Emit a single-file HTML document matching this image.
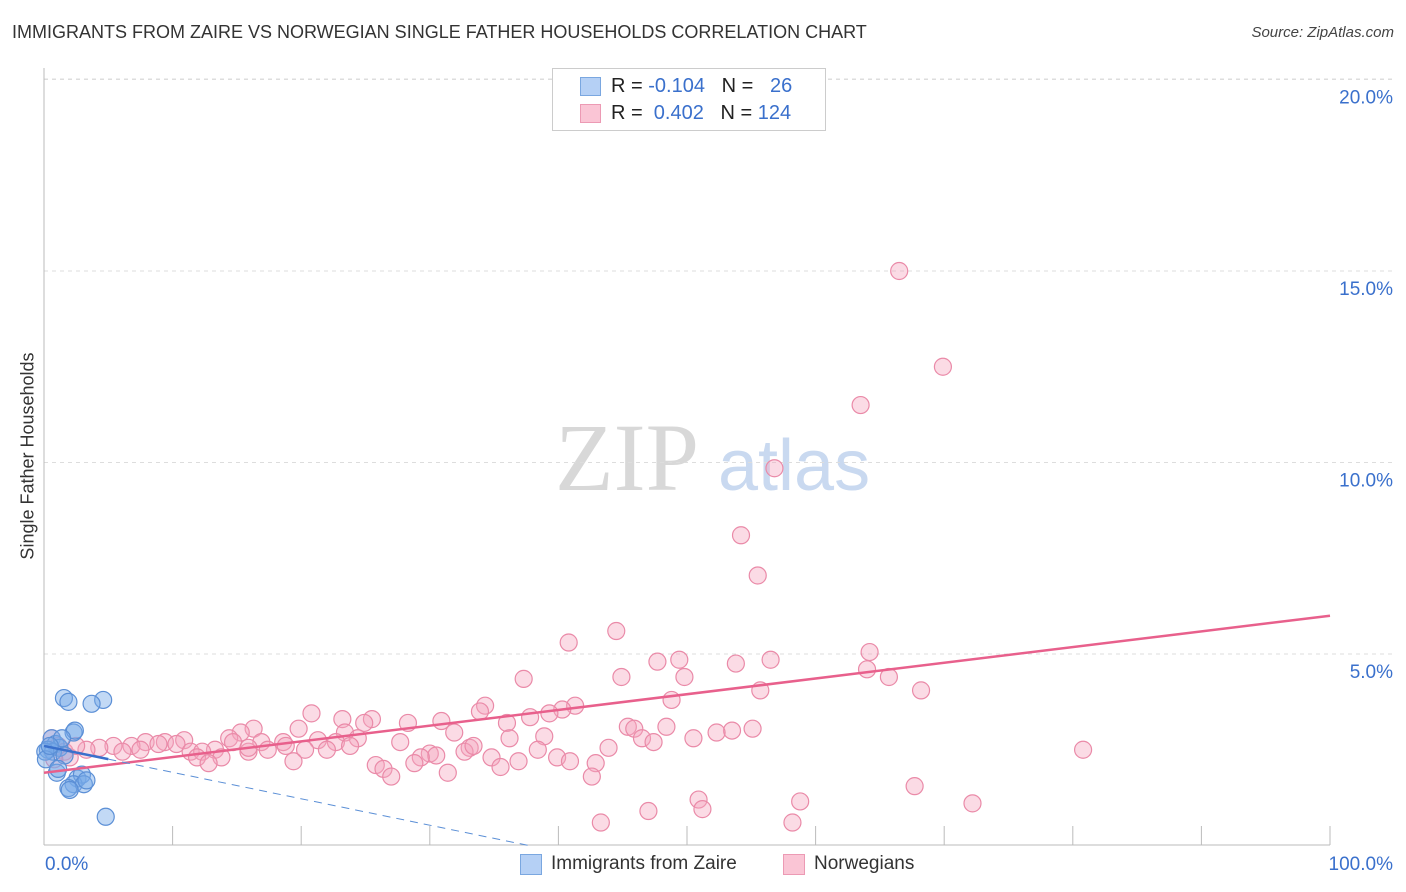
<!DOCTYPE html>
<html><head><meta charset="utf-8">
<style>
body{margin:0;background:#fff;font-family:"Liberation Sans",sans-serif;}
#wrap{position:relative;width:1406px;height:892px;overflow:hidden;}
.t{position:absolute;white-space:nowrap;}
</style></head>
<body>
<div id="wrap">
<div class="t" style="left:12px;top:22px;font-size:18px;color:#333;">IMMIGRANTS FROM ZAIRE VS NORWEGIAN SINGLE FATHER HOUSEHOLDS CORRELATION CHART</div>
<div class="t" style="right:12px;top:24px;font-size:15px;color:#444;font-style:italic;">Source: ZipAtlas.com</div>
<div class="t" style="left:28px;top:456px;font-size:18px;color:#333;transform:translate(-50%,-50%) rotate(-90deg);">Single Father Households</div>
<svg id="chart" width="1406" height="892" style="position:absolute;left:0;top:0">
<text x="555" y="490" font-family="Liberation Serif,serif" font-size="96" fill="#d8d8d8">ZIP</text>
<text x="718" y="490" font-family="Liberation Sans,sans-serif" font-size="72" fill="#c9d9f0">atlas</text>
</svg>
<div style="position:absolute;left:552px;top:68px;width:272px;height:61px;border:1px solid #ccc;background:#fff;">
 <div style="position:absolute;left:27px;top:8px;width:19px;height:17px;background:#b5d0f5;border:1px solid #7aa7e0;"></div>
 <div style="position:absolute;left:27px;top:35px;width:19px;height:17px;background:#fac5d5;border:1px solid #ec9ab4;"></div>
 <div class="t" style="left:58px;top:6px;font-size:20px;color:#222;">R = <span style="color:#3a70cc">-0.104</span>&nbsp;&nbsp;&nbsp;N = &nbsp;&nbsp;<span style="color:#3a70cc">26</span></div>
 <div class="t" style="left:58px;top:33px;font-size:20px;color:#222;">R = &nbsp;<span style="color:#3a70cc">0.402</span>&nbsp;&nbsp;&nbsp;N = <span style="color:#3a70cc">124</span></div>
</div>
<div>
 <div style="position:absolute;left:520px;top:854px;width:20px;height:19px;background:#b5d0f5;border:1px solid #7aa7e0;"></div>
 <div class="t" style="left:551px;top:853px;font-size:19px;color:#333;">Immigrants from Zaire</div>
 <div style="position:absolute;left:783px;top:854px;width:20px;height:19px;background:#fac5d5;border:1px solid #ec9ab4;"></div>
 <div class="t" style="left:814px;top:853px;font-size:19px;color:#333;">Norwegians</div>
</div>
</div>
<script>
const yTicks=[5,10,15,20];
const yTickLabels=["5.0%","10.0%","15.0%","20.0%"];
const xTickValues=[10,20,30,40,50,60,70,80,90,100];
const xEndLabels=["0.0%","100.0%"];
const blueX=[1.55,1.9,4.6,3.7,2.3,2.4,0.6,0.9,0.3,1.2,0.7,1.6,0.1,1.0,2.6,2.95,2.3,1.9,3.1,3.3,4.8,0.15,1.4,0.45,2.0,1.1];
const blueY=[3.85,3.75,3.8,3.7,2.95,3.0,2.8,2.65,2.5,2.55,2.45,2.35,2.45,1.9,1.75,1.85,1.6,1.5,1.6,1.7,0.75,2.25,2.8,2.6,1.45,2.0];
const pinkX=[66.5,69.9,63.5,56.8,54.2,55.5,44.5,40.8,64.2,49.4,56.5,47.7,53.8,64.0,44.9,49.8,65.7,37.3,55.7,68.2,48.8,34.3,41.3,20.8,33.9,40.3,39.3,37.8,23.2,25.5,24.9,28.3,30.9,36.0,19.8,16.3,45.4,45.9,48.4,55.1,53.5,52.3,15.3,23.4,31.9,38.9,24.4,14.4,50.5,46.5,36.2,47.4,18.6,21.3,16.9,14.7,10.9,9.4,7.9,10.3,8.9,6.8,5.4,4.3,22.7,27.7,23.8,18.8,17.4,20.3,22.0,33.1,32.7,11.4,13.3,15.9,3.3,6.1,7.5,12.3,15.9,43.9,38.4,80.8,33.4,30.0,30.5,29.3,34.8,39.9,40.9,11.9,13.8,19.4,28.8,36.9,12.8,42.9,25.8,35.5,26.4,31.4,27.0,42.6,50.9,58.8,51.2,47.0,67.7,72.2,43.3,58.2,0.6,1.1,1.6,2.0,0.8,2.5];
const pinkY=[15.0,12.5,11.5,9.85,8.1,7.05,5.6,5.3,5.05,4.85,4.85,4.8,4.75,4.6,4.4,4.4,4.4,4.35,4.05,4.05,3.8,3.65,3.65,3.45,3.5,3.55,3.45,3.35,3.3,3.3,3.2,3.2,3.25,3.2,3.05,3.05,3.1,3.05,3.1,3.05,3.0,2.95,2.95,2.95,2.95,2.85,2.8,2.8,2.8,2.8,2.8,2.7,2.7,2.75,2.7,2.7,2.75,2.7,2.7,2.65,2.65,2.6,2.6,2.55,2.7,2.7,2.6,2.6,2.5,2.5,2.5,2.55,2.45,2.45,2.5,2.45,2.5,2.45,2.5,2.45,2.55,2.55,2.5,2.5,2.6,2.4,2.35,2.3,2.3,2.3,2.2,2.3,2.3,2.2,2.15,2.2,2.15,2.15,2.1,2.05,2.0,1.9,1.8,1.8,1.2,1.15,0.95,0.9,1.55,1.1,0.6,0.6,2.8,2.6,2.45,2.3,2.25,2.6];
const blueTrend=[2.6,-0.069];
const pinkTrend=[1.9,0.041];

const X0=44,X1=1330,Y0=845.5,PXY=38.3;
const sx=v=>X0+(X1-X0)*v/100;
const sy=v=>Y0-v*PXY;
const svg=document.getElementById('chart');
const NS='http://www.w3.org/2000/svg';
function mk(tag,attrs){const e=document.createElementNS(NS,tag);for(const k in attrs)e.setAttribute(k,attrs[k]);svg.appendChild(e);return e;}

let g=mk('line',{x1:X0,x2:1392,y1:79,y2:79,stroke:'#ddd','stroke-dasharray':'4,4'});


yTicks.forEach((v,i)=>{
 const l=mk('line',{x1:X0,x2:1392,y1:sy(v),y2:sy(v),stroke:'#ddd','stroke-dasharray':'4,4'});
 
 
 const t=mk('text',{x:1393,y:sy(v)+24,'text-anchor':'end','font-size':19,fill:'#3a70cc','font-family':'Liberation Sans,sans-serif'});
 t.textContent=yTickLabels[i];
 
 
});
let ax=mk('line',{x1:X0,x2:X0,y1:68,y2:845,stroke:'#bbb'});


let bx=mk('line',{x1:X0,x2:X1,y1:845,y2:845,stroke:'#bbb'});


xTickValues.forEach(v=>{
 const l=mk('line',{x1:sx(v),x2:sx(v),y1:826,y2:845,stroke:'#bbb'});
 
 
});
[[0,'start',45],[100,'end',1393]].forEach((d,i)=>{
 const t=mk('text',{x:d[2],y:870,'text-anchor':d[1],'font-size':19,fill:'#3a70cc','font-family':'Liberation Sans,sans-serif'});
 t.textContent=xEndLabels[i];
 
 
});
pinkX.forEach((x,i)=>{
 const c=mk('circle',{cx:sx(x),cy:sy(pinkY[i]),r:8.5,fill:'rgba(246,165,190,0.4)',stroke:'#ea8aa8','stroke-width':1.2});
 
 
});
blueX.forEach((x,i)=>{
 const c=mk('circle',{cx:sx(x),cy:sy(blueY[i]),r:8.5,fill:'rgba(120,170,232,0.45)',stroke:'#5b8fd6','stroke-width':1.2});
 
 
});
let pl=mk('line',{x1:sx(0),y1:sy(pinkTrend[0]),x2:sx(100),y2:sy(pinkTrend[0]+pinkTrend[1]*100),stroke:'#e8608c','stroke-width':2.5});


const bEnd=-blueTrend[0]/blueTrend[1];
let bd=mk('line',{x1:sx(5),y1:sy(blueTrend[0]+blueTrend[1]*5),x2:sx(bEnd),y2:sy(0),stroke:'#5b8fd6','stroke-width':1,'stroke-dasharray':'8,6'});


let bs=mk('line',{x1:sx(0),y1:sy(blueTrend[0]),x2:sx(5),y2:sy(blueTrend[0]+blueTrend[1]*5),stroke:'#3a70cc','stroke-width':2.5});


</script>
</body></html>
